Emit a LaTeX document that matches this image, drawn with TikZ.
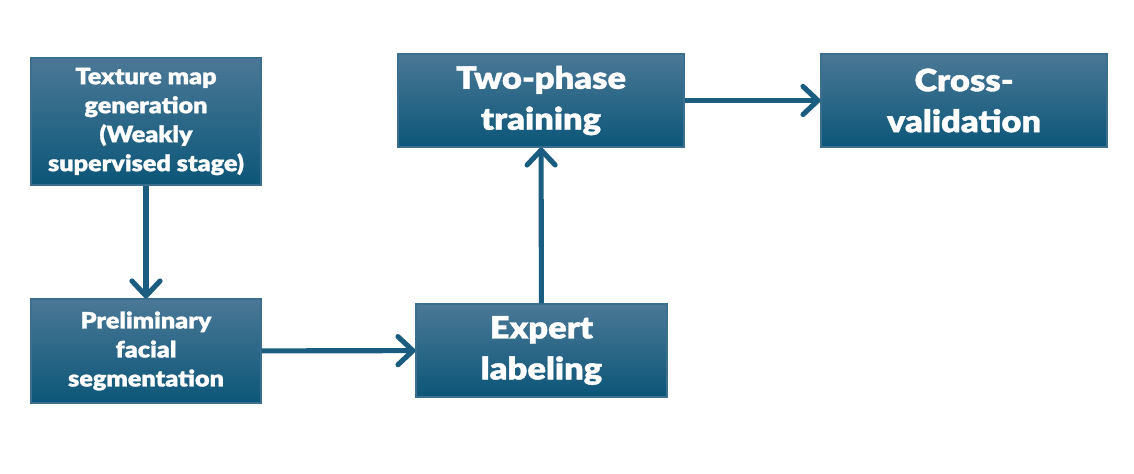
\documentclass[tikz,border=0pt]{standalone}
\usepackage{fontspec}
\usepackage{tikz}
\usetikzlibrary{arrows.meta}
\newfontfamily\boxfont[FakeBold=1.2,FakeStretch=1.12]{Lato Black}
\definecolor{boxtop}{HTML}{4B7896}
\definecolor{boxmid}{HTML}{175F85}
\definecolor{boxbot}{HTML}{0C5678}
\definecolor{boxline}{HTML}{3A6F8F}
\definecolor{flowline}{HTML}{1A5D80}

\begin{document}
\begin{tikzpicture}[
		stagebox/.style={draw=boxline, line width=0.6pt, top color=boxtop, middle color=boxmid, bottom color=boxbot, text=white, align=center, inner sep=0pt, font=\boxfont\fontsize{12.8}{16.5}\selectfont},
		bigstage/.style={stagebox, font=\boxfont\fontsize{17.5}{23.3}\selectfont},
		flow/.style={draw=flowline, line width=2.9pt, -{Straight Barb[length=8.5pt,width=16pt,round]}}]
			\useasboundingbox (0,0) rectangle (22.68,9.46);
			\node[stagebox, minimum width=4.6cm, minimum height=2.54cm] (tex) at (2.92,7.03) {Texture map\\generation\\(Weakly\\supervised stage)};
			\node[stagebox, minimum width=4.6cm, minimum height=2.08cm] (pre) at (2.92,2.44) {Preliminary\\facial\\segmentation};
			\node[bigstage, minimum width=5.02cm, minimum height=1.86cm] (exp) at (10.83,2.45) {Expert\\labeling};
			\node[bigstage, minimum width=5.72cm, minimum height=1.86cm] (two) at (10.82,7.45) {Two-phase\\training};
			\node[bigstage, minimum width=5.72cm, minimum height=1.86cm] (cro) at (19.28,7.45) {Cross-\\validation};
			\draw[flow] (tex) -- (pre);
			\draw[flow] (pre) -- (exp);
			\draw[flow] (exp) -- (two);
			\draw[flow] (two) -- (cro);
		\end{tikzpicture}
\end{document}
